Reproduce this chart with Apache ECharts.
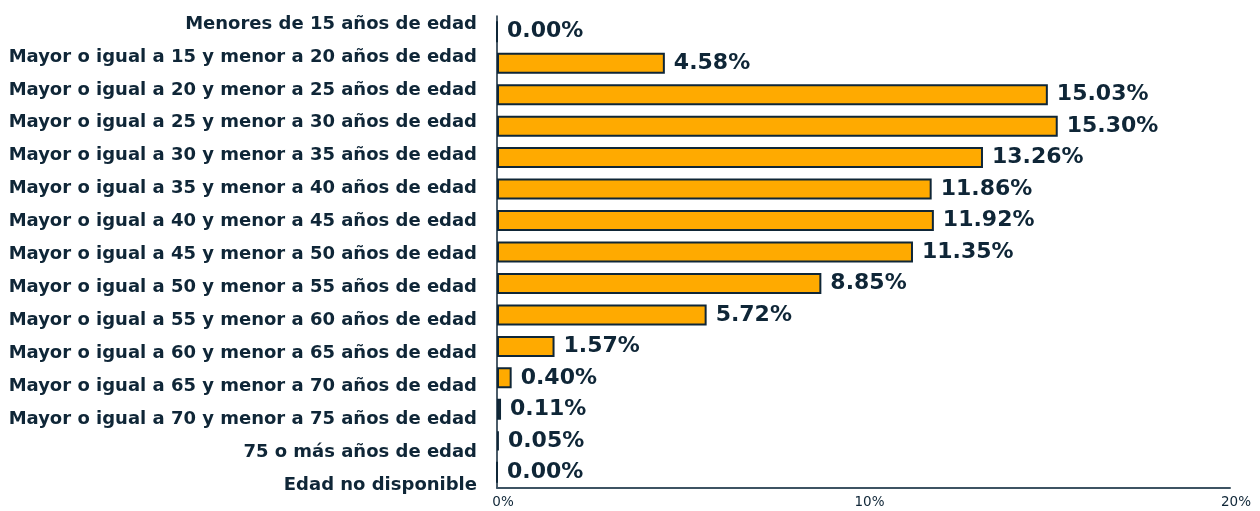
<!DOCTYPE html>
<html><head><meta charset="utf-8">
<script src="https://cdn.jsdelivr.net/npm/echarts@6/dist/echarts.min.js"></script>
<style>html,body{margin:0;padding:0;background:#fff}#c{width:1260px;height:511px}</style>
</head><body><div id="c"></div>
<script>
const categories = [
  "Menores de 15 años de edad",
  "Mayor o igual a 15 y menor a 20 años de edad",
  "Mayor o igual a 20 y menor a 25 años de edad",
  "Mayor o igual a 25 y menor a 30 años de edad",
  "Mayor o igual a 30 y menor a 35 años de edad",
  "Mayor o igual a 35 y menor a 40 años de edad",
  "Mayor o igual a 40 y menor a 45 años de edad",
  "Mayor o igual a 45 y menor a 50 años de edad",
  "Mayor o igual a 50 y menor a 55 años de edad",
  "Mayor o igual a 55 y menor a 60 años de edad",
  "Mayor o igual a 60 y menor a 65 años de edad",
  "Mayor o igual a 65 y menor a 70 años de edad",
  "Mayor o igual a 70 y menor a 75 años de edad",
  "75 o más años de edad",
  "Edad no disponible"
];
const values = [0.00, 4.58, 15.03, 15.30, 13.26, 11.86, 11.92, 11.35, 8.85, 5.72, 1.57, 0.40, 0.11, 0.05, 0.00];
const xTicks = { min: 0, max: 20, interval: 10 };

const dark = '#0f2637';
const font = '"DejaVu Sans", "Noto Sans", sans-serif';
const chart = echarts.init(document.getElementById('c'), null, {renderer: 'canvas'});
chart.setOption({
  animation: false,
  textStyle: { fontFamily: font },
  grid: [
    { left: 497, right: 30, top: 16, bottom: 23 },
    { left: 480, right: 20, top: 7.5, bottom: 9.5 }
  ],
  xAxis: [
    { type: 'value', gridIndex: 0, min: xTicks.min, max: xTicks.max, interval: xTicks.interval,
      splitLine: { show: false },
      axisLine: { show: true, lineStyle: { color: '#3e5363', width: 2 } },
      axisTick: { show: false },
      axisLabel: { formatter: '{value}%', color: dark, fontSize: 13.5, fontFamily: font, margin: 7, padding: [0,0,0,12] } },
    { type: 'value', gridIndex: 1, min: 0, max: 1, show: false }
  ],
  yAxis: [
    { type: 'category', gridIndex: 0, inverse: true, data: categories,
      axisLine: { show: true, lineStyle: { color: dark, width: 1.5 } },
      axisTick: { show: false }, axisLabel: { show: false } },
    { type: 'category', gridIndex: 1, inverse: true, data: categories,
      axisLine: { show: false }, axisTick: { show: false },
      axisLabel: { show: true, color: dark, fontSize: 18, fontWeight: 'bold', fontFamily: font, margin: 3 } }
  ],
  series: [{
    type: 'bar', xAxisIndex: 0, yAxisIndex: 0, data: values,
    barWidth: 21,
    itemStyle: { color: '#FFAA00', borderColor: dark, borderWidth: 2 },
    label: { show: true, position: 'right', distance: 9, color: dark, fontSize: 22, fontWeight: 'bold', fontFamily: font,
      formatter: p => p.value.toFixed(2) + '%' }
  }]
});
</script></body></html>
